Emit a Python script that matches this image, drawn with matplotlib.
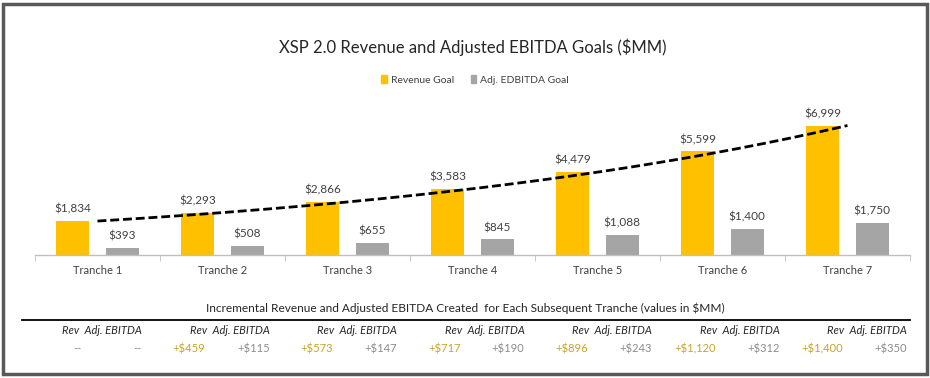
import numpy as np
import matplotlib
matplotlib.use("Agg")
import matplotlib.pyplot as plt
from matplotlib.patches import Rectangle, Patch
from matplotlib.lines import Line2D

plt.rcParams['font.family'] = ['Lato', 'DejaVu Sans']

categories = ["Tranche 1", "Tranche 2", "Tranche 3", "Tranche 4", "Tranche 5", "Tranche 6", "Tranche 7"]
revenue = [1834, 2293, 2866, 3583, 4479, 5599, 6999]
ebitda = [393, 508, 655, 845, 1088, 1400, 1750]
inc_rev = ["--", "+$459", "+$573", "+$717", "+$896", "+$1,120", "+$1,400"]
inc_ebitda = ["--", "+$115", "+$147", "+$190", "+$243", "+$312", "+$350"]

W, H = 930, 378
fig = plt.figure(figsize=(W / 100, H / 100), dpi=100)
fig.patch.set_facecolor("white")

def fx(px):
    return px / W

def fy(py):
    return 1 - py / H

ax = fig.add_axes([fx(35), fy(255), fx(910) - fx(35), fy(107) - fy(255)])
x = np.arange(len(categories))
off, bw = 0.198, 0.262
c_rev, c_eb = "#FFC000", "#A5A5A5"
ax.bar(x - off, revenue, bw, color=c_rev, zorder=2)
ax.bar(x + off, ebitda, bw, color=c_eb, zorder=2)
lab_c = "#404040"
for xi, v in zip(x, revenue):
    ax.annotate(f"${v:,}", (xi - off, v), xytext=(0, 4.5), textcoords="offset points",
                ha="center", va="bottom", fontsize=8.5, color=lab_c)
for xi, v in zip(x, ebitda):
    ax.annotate(f"${v:,}", (xi + off, v), xytext=(0, 4.5), textcoords="offset points",
                ha="center", va="bottom", fontsize=8.5, color=lab_c)

# exponential trendline fitted to revenue
coef = np.polyfit(x, np.log(revenue), 1)
xt = np.linspace(0, 6, 200)
ax.plot(xt, np.exp(np.polyval(coef, xt)), color="black", lw=2, ls=(0, (3.2, 1.4)), zorder=3)

ax.set_xlim(-0.5, 6.5)
ax.set_ylim(0, 8000)
for s in ["top", "left", "right"]:
    ax.spines[s].set_visible(False)
ax.spines["bottom"].set_color("#BFBFBF")
ax.spines["bottom"].set_linewidth(1)
ax.set_yticks([])
ax.set_xticks(x)
ax.set_xticklabels(categories, fontsize=8, color=lab_c)
ax.tick_params(axis="x", which="major", length=0, pad=7)
ax.set_xticks(np.arange(-0.5, 7.0, 1.0), minor=True)
ax.tick_params(axis="x", which="minor", length=4, color="#BFBFBF", direction="out")

fig.text(fx(473), fy(47), "XSP 2.0 Revenue and Adjusted EBITDA Goals ($MM)", ha="center", va="center",
         fontsize=12, color="#262626")
handles = [Patch(color=c_rev, label="Revenue Goal"), Patch(color=c_eb, label="Adj. EDBITDA Goal")]
fig.legend(handles=handles, loc="center", bbox_to_anchor=(fx(475), fy(80)), ncol=2, frameon=False,
           fontsize=7.5, handlelength=0.55, handleheight=0.8, handletextpad=0.4, columnspacing=1.6,
           labelcolor=lab_c)

# table section
fig.text(fx(465), fy(308), "Incremental Revenue and Adjusted EBITDA Created  for Each Subsequent Tranche (values in $MM)",
         ha="center", va="center", fontsize=8.6, color="#262626")
fig.add_artist(Line2D([fx(22), fx(910)], [fy(320), fy(320)], color="black", lw=1.3))
gold, grey = "#C9A227", "#8C8C8C"
for i in range(len(categories)):
    r = 142 + 127.5 * i
    fig.text(fx(r), fy(330), "Rev  Adj. EBITDA", ha="right", va="center", fontsize=8,
             style="italic", color="#262626")
    fig.text(fx(r), fy(349), inc_ebitda[i], ha="right", va="center", fontsize=8, color=grey)
    if i == 0:
        fig.text(fx(r - 65), fy(349), inc_rev[i], ha="center", va="center", fontsize=8, color=grey)
    else:
        fig.text(fx(r - 64), fy(349), inc_rev[i], ha="right", va="center", fontsize=8, color=gold)

fig.add_artist(Rectangle((fx(3), fy(374)), fx(924), 370 / H, fill=False, ec="#595959", lw=2.5,
                         transform=fig.transFigure))

fig.savefig("out.png", dpi=100)
